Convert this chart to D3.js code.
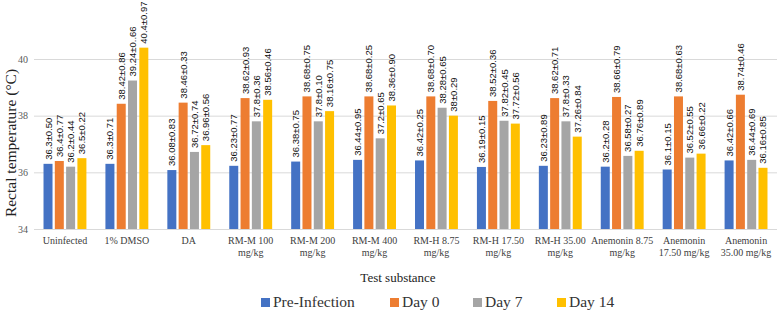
<!DOCTYPE html>
<html lang="en">
<head>
    <meta charset="UTF-8">
    <title>Rectal temperature</title>
    <script src="https://d3js.org/d3.v7.min.js"></script>
    <style>
        body { margin: 0; background: #fff; }
        .serif { font-family: "Liberation Serif", "Times New Roman", "DejaVu Serif", serif; }
        .y.axis path, .x.axis path { display: none; }
        .y.axis line { stroke: #d9d9d9; }
        .y.axis text { fill: #595959; font-size: 10px; }
        .x.axis text { fill: #404040; font-size: 10px; }
    </style>
</head>
<body>
<div id="chart"></div>
<script>
    // data
    const categories = ["Uninfected", "1% DMSO", "DA", "RM-M 100|mg/kg", "RM-M 200|mg/kg",
        "RM-M 400|mg/kg", "RM-H 8.75|mg/kg", "RM-H 17.50|mg/kg", "RM-H 35.00|mg/kg",
        "Anemonin 8.75|mg/kg", "Anemonin|17.50 mg/kg", "Anemonin|35.00 mg/kg"]
    const series = ["Pre-Infection", "Day 0", "Day 7", "Day 14"]
    const colors = ["#4472C4", "#ED7D31", "#A5A5A5", "#FFC000"]

    const preInfection = [36.3, 36.3, 36.08, 36.23, 36.38, 36.44, 36.42, 36.19, 36.23, 36.2, 36.1, 36.42]
    const day0 = [36.4, 38.42, 38.46, 38.62, 38.68, 38.68, 38.68, 38.52, 38.62, 38.66, 38.68, 38.74]
    const day7 = [36.2, 39.24, 36.72, 37.8, 37.8, 37.2, 38.28, 37.82, 37.8, 36.58, 36.52, 36.44]
    const day14 = [36.5, 40.4, 36.96, 38.56, 38.16, 38.36, 38, 37.72, 37.26, 36.76, 36.66, 36.16]

    const preSD = ["0.50", "0.71", "0.83", "0.77", "0.75", "0.95", "0.25", "0.15", "0.89", "0.28", "0.15", "0.66"]
    const day0SD = ["0.77", "0.86", "0.33", "0.93", "0.75", "0.25", "0.70", "0.36", "0.71", "0.79", "0.63", "0.46"]
    const day7SD = ["0.44", "0..66", "0.74", "0.36", "0.10", "0.65", "0.65", "0.45", "0.33", "0.27", "0.55", "0.69"]
    const day14SD = ["0.22", "0.97", "0.56", "0.46", "0.75", "0.90", "0.29", "0.56", "0.84", "0.89", "0.22", "0.85"]

    const yTicks = [34, 36, 38, 40]

    const values = [preInfection, day0, day7, day14]
    const sds = [preSD, day0SD, day7SD, day14SD]

    const W = 778, H = 312

    const svg = d3.select("#chart").append("svg")
        .attr("width", W)
        .attr("height", H)

    const x0 = d3.scaleBand()
        .domain(categories)
        .range([34, 777])

    const x1 = d3.scaleBand()
        .domain(series)
        .range([0, x0.bandwidth()])
        .paddingInner(0.2)
        .paddingOuter(0.84)

    const y = d3.scaleLinear()
        .domain([34, 40])
        .range([229, 59])

    // y axis + gridlines
    svg.append("g")
        .attr("class", "y axis serif")
        .attr("transform", "translate(34,0)")
        .call(d3.axisLeft(y).tickValues(yTicks).tickFormat(d3.format("d")).tickSize(-743).tickPadding(6))
        .attr("font-family", null)

    // x axis labels (two lines)
    const xAxis = svg.append("g")
        .attr("class", "x axis serif")
        .attr("transform", "translate(0,229)")
        .call(d3.axisBottom(x0).tickSize(0).tickFormat(""))
        .attr("font-family", null)

    xAxis.selectAll(".tick").append("text")
        .attr("text-anchor", "middle")
        .attr("fill", "#404040")
        .selectAll("tspan")
        .data(d => d.split("|"))
        .join("tspan")
        .attr("x", 0)
        .attr("y", (d, i) => 15 + i * 12)
        .text(d => d)

    // bars
    const rows = []
    categories.forEach((c, ci) => {
        series.forEach((s, si) => {
            rows.push({ cat: c, s: s, si: si, v: values[si][ci], sd: sds[si][ci] })
        })
    })

    const bw = 9
    svg.append("g").selectAll("rect")
        .data(rows)
        .join("rect")
        .attr("x", d => x0(d.cat) + x1(d.s) + (x1.bandwidth() - bw) / 2)
        .attr("y", d => y(d.v))
        .attr("width", bw)
        .attr("height", d => y(34) - y(d.v))
        .attr("fill", d => colors[d.si])

    // value labels
    svg.append("g").selectAll("text")
        .data(rows)
        .join("text")
        .attr("transform", d => {
            const cx = x0(d.cat) + x1(d.s) + x1.bandwidth() / 2 + 3.5
            return `translate(${cx},${y(d.v) - 4}) rotate(-90)`
        })
        .attr("font-family", "Liberation Sans, Arial, sans-serif")
        .attr("font-size", "9.5px")
        .attr("fill", "#111")
        .text(d => `${d.v}±${d.sd}`)

    // axis titles
    svg.append("text")
        .attr("class", "serif")
        .attr("transform", "translate(16,143) rotate(-90)")
        .attr("text-anchor", "middle")
        .attr("font-size", "15.5px")
        .attr("fill", "#222")
        .text("Rectal temperature (°C)")

    svg.append("text")
        .attr("class", "serif")
        .attr("x", 398)
        .attr("y", 282)
        .attr("text-anchor", "middle")
        .attr("font-size", "13px")
        .attr("fill", "#222")
        .text("Test substance")

    // legend
    const legendX = [261, 390, 473, 557]
    const legend = svg.append("g").selectAll("g")
        .data(series)
        .join("g")
        .attr("transform", (d, i) => `translate(${legendX[i]},298)`)

    legend.append("rect")
        .attr("width", 9)
        .attr("height", 9)
        .attr("fill", (d, i) => colors[i])

    legend.append("text")
        .attr("class", "serif")
        .attr("x", 12)
        .attr("y", 9)
        .attr("font-size", "15.5px")
        .attr("fill", "#333")
        .text(d => d)
</script>
</body>
</html>
